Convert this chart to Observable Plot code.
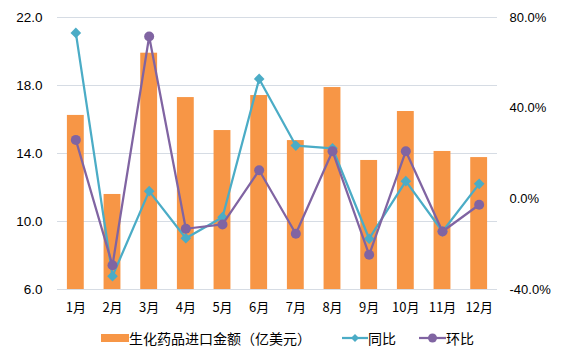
<!DOCTYPE html>
<html><head><meta charset="utf-8">
<script src="https://cdn.jsdelivr.net/npm/d3@7"></script>
<script src="https://cdn.jsdelivr.net/npm/@observablehq/plot@0.6"></script>
<style>
body{margin:0;background:#fff;font-family:"Liberation Sans",Arial,sans-serif;}
#chart{position:relative;width:573px;height:359px;overflow:hidden;}
#legend{position:absolute;left:0;top:327px;width:573px;height:22px;font-family:"Noto Sans CJK SC",sans-serif;font-size:14px;color:#000;}
.item{position:absolute;top:0;height:22px;display:flex;align-items:center;white-space:nowrap;}
</style></head><body><div id="chart"></div>
<script>
const months = ["1月","2月","3月","4月","5月","6月","7月","8月","9月","10月","11月","12月"];
const importValue = [16.24, 11.59, 19.9, 17.29, 15.35, 17.41, 14.76, 17.88, 13.59, 16.47, 14.12, 13.76];
const yoy = [73.2, -34.1, 3.4, -17.4, -8.1, 52.9, 23.5, 22.3, -17.6, 7.8, -14.4, 6.6];
const mom = [26.0, -29.3, 71.6, -13.2, -11.3, 12.6, -15.4, 21.0, -24.7, 21.0, -14.4, -2.6];
const leftTicks = [6, 10, 14, 18, 22];
const rightTicks = [-40, 0, 40, 80];
const seriesNames = ["生化药品进口金额（亿美元）", "同比", "环比"];
const colors = ["#F79646", "#4BACC6", "#8064A2"];

const toLeft = d3.scaleLinear([-40, 80], [6, 22]);
const rows = months.map((m, i) => ({m, v: importValue[i], yoy: toLeft(yoy[i]), mom: toLeft(mom[i])}));
const f1 = d3.format(".1f");
const fmtPct = d => { const v = Math.round(toLeft.invert(d) * 10) / 10; return (v < 0 ? "-" : "") + f1(Math.abs(v)) + "%"; };

const plot = Plot.plot({
  width: 573, height: 318,
  marginLeft: 57, marginRight: 76, marginTop: 17, marginBottom: 29,
  x: {domain: months, paddingInner: 0.54, paddingOuter: 0.27, round: false, label: null},
  y: {domain: [6, 22], label: null},
  style: {fontFamily: "'Liberation Sans', Arial, sans-serif", fontSize: "13px", color: "#000", background: "#fff"},
  marks: [
    Plot.gridY(leftTicks, {stroke: "#D6DCE4", strokeOpacity: 1, strokeWidth: 1}),
    Plot.barY(rows, {x: "m", y1: 6, y2: "v", fill: colors[0]}),
    Plot.line(rows, {x: "m", y: "yoy", stroke: colors[1], strokeWidth: 2.25}),
    Plot.dot(rows, {x: "m", y: "yoy", symbol: "diamond2", fill: colors[1], stroke: null, r: 4.8}),
    Plot.line(rows, {x: "m", y: "mom", stroke: colors[2], strokeWidth: 2.25}),
    Plot.dot(rows, {x: "m", y: "mom", fill: colors[2], stroke: null, r: 5}),
    Plot.axisY(leftTicks, {anchor: "left", tickSize: 0, tickPadding: 15, tickFormat: f1, fontSize: 13.5}),
    Plot.axisY(rightTicks.map(toLeft), {anchor: "right", tickSize: 0, tickPadding: 12, tickFormat: fmtPct, fontSize: 13}),
    Plot.axisX({tickSize: 0, tickPadding: 13, fontSize: 13, fontFamily: "'Noto Sans CJK SC', sans-serif"})
  ]
});
const chart = document.getElementById("chart");
chart.appendChild(plot);

const legend = document.createElement("div");
legend.id = "legend";
legend.innerHTML = `
<div class="item" style="left:101px"><svg width="28" height="22"><rect x="0" y="7" width="28" height="8" fill="${colors[0]}"/></svg><span>${seriesNames[0]}</span></div>
<div class="item" style="left:342px"><svg width="26" height="22"><line x1="0" x2="26" y1="11" y2="11" stroke="${colors[1]}" stroke-width="2.25"/><path d="M13,7 L17,11 L13,15 L9,11Z" fill="${colors[1]}"/></svg><span>${seriesNames[1]}</span></div>
<div class="item" style="left:419px"><svg width="27" height="22"><line x1="0" x2="27" y1="11" y2="11" stroke="${colors[2]}" stroke-width="2.25"/><circle cx="13.5" cy="11" r="4.5" fill="${colors[2]}"/></svg><span>${seriesNames[2]}</span></div>`;
chart.appendChild(legend);
</script></body></html>
